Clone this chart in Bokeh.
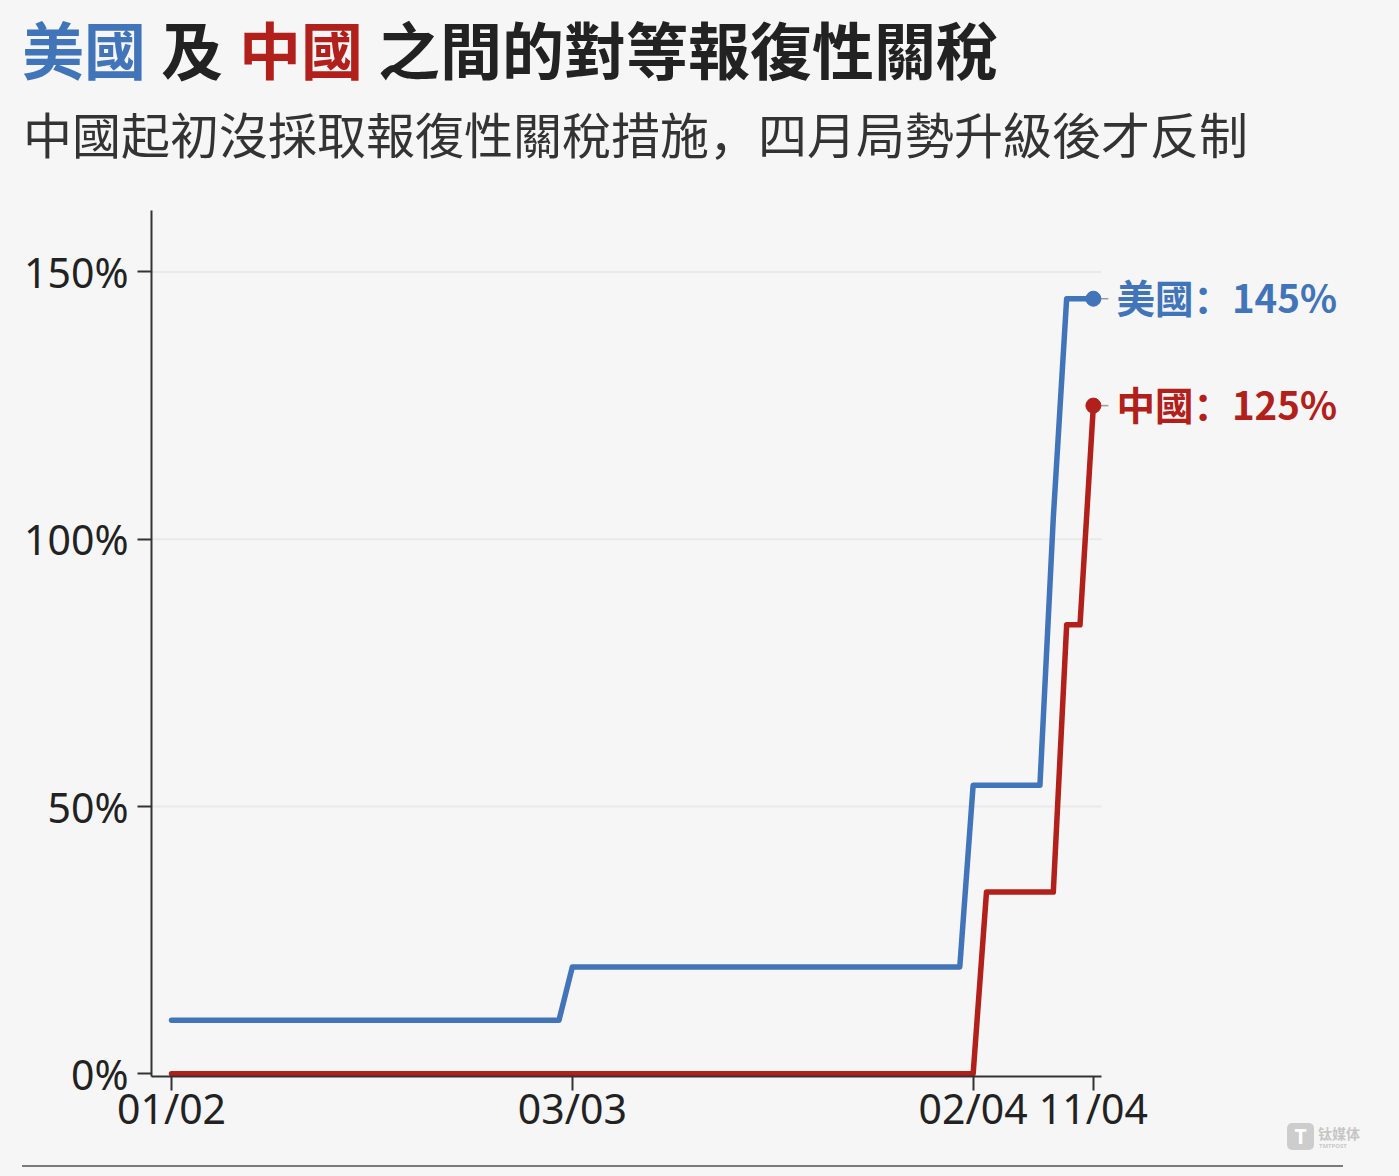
import pandas as pd
from bokeh.plotting import figure
from bokeh.layouts import column
from bokeh.models import Range1d, FixedTicker, Div
from bokeh.core.properties import value
from bokeh.embed import file_html
from bokeh.resources import INLINE

# ---- data ----
us_name = "美國"
cn_name = "中國"
us_dates = ["2025-02-01", "2025-03-02", "2025-03-03", "2025-04-01", "2025-04-02",
            "2025-04-07", "2025-04-08", "2025-04-09", "2025-04-11"]
us_rate = [10, 10, 20, 20, 54, 54, 104, 145, 145]
cn_dates = ["2025-02-01", "2025-04-02", "2025-04-03", "2025-04-08", "2025-04-09",
            "2025-04-10", "2025-04-11"]
cn_rate = [0, 0, 34, 34, 84, 84, 125]
tick_dates = ["2025-02-01", "2025-03-03", "2025-04-02", "2025-04-11"]
tick_labels = ["01/02", "03/03", "02/04", "11/04"]
y_ticks = [0, 50, 100, 150]
y_tick_labels = ["0%", "50%", "100%", "150%"]
title_parts = ["美國", "及", "中國", "之間的對等報復性關稅"]
subtitle = "中國起初沒採取報復性關稅措施，四月局勢升級後才反制"

BG = "#f6f6f6"
BLUE = "#4174b8"
RED = "#b1201b"
DARK = "#222222"
CJK = "Noto Sans CJK TC"
CJK_P = "Noto Sans CJK SC"
DAY = 86400000
W = 1399
PX_PER_DAY = 13.36
FRAME_W = 1228
HEAD_H = 190
FIG_H = 948
FOOT_H = 38


def ms(s):
    return int(pd.Timestamp(s).value // 10**6)


x_start = ms(tick_dates[0]) - 1.5 * DAY
x_end = x_start + FRAME_W / PX_PER_DAY * DAY
axis_end = ms(tick_dates[-1]) + 0.6 * DAY

p = figure(frame_width=FRAME_W, frame_height=866,
           min_border_left=151, min_border_right=W - 151 - FRAME_W,
           min_border_top=20, min_border_bottom=FIG_H - 20 - 866,
           x_axis_type="datetime", output_backend="svg", toolbar_location=None,
           background_fill_color=BG, border_fill_color=BG, outline_line_color=None)
p.x_range = Range1d(x_start, x_end)
p.y_range = Range1d(-0.5, 161.5)

for ax in (p.xaxis[0], p.yaxis[0]):
    ax.axis_line_color = "#333333"
    ax.axis_line_width = 2
    ax.major_tick_line_color = "#333333"
    ax.major_tick_line_width = 2
    ax.major_tick_out = 14
    ax.major_tick_in = 0
    ax.minor_tick_line_color = None
    ax.major_label_text_font = "Noto Sans"
    ax.major_label_text_font_size = "41px"
    ax.major_label_text_color = DARK

p.xaxis.ticker = FixedTicker(ticks=[ms(d) for d in tick_dates])
p.xaxis.major_label_overrides = {ms(d): l for d, l in zip(tick_dates, tick_labels)}
p.xaxis.major_label_standoff = -11
p.xaxis.bounds = (x_start, axis_end)
p.yaxis.ticker = FixedTicker(ticks=y_ticks)
p.yaxis.major_label_overrides = dict(zip(y_ticks, y_tick_labels))
p.yaxis.major_label_standoff = 9

p.xgrid.grid_line_color = None
p.ygrid.grid_line_color = None
gy = y_ticks[1:]
p.segment(x0=[x_start] * len(gy), x1=[axis_end] * len(gy), y0=gy, y1=gy,
          line_color="#e9e9e9", line_width=2)

us_x = pd.to_datetime(us_dates)
cn_x = pd.to_datetime(cn_dates)
p.line(us_x, us_rate, line_width=5.5, color=BLUE, line_join="round", line_cap="round")
p.line(cn_x, cn_rate, line_width=5.5, color=RED, line_join="round", line_cap="round")

for name, xs, rates, col in ((us_name, us_x, us_rate, BLUE), (cn_name, cn_x, cn_rate, RED)):
    p.ray(x=[xs[-1]], y=[rates[-1]], length=15, length_units="screen", angle=0,
          line_color="#9a9a9a", line_width=1.5)
    p.scatter([xs[-1]], [rates[-1]], size=15, color=col)
    p.text(x=[xs[-1]], y=[rates[-1]], text=[f"{name}：{rates[-1]}%"], x_offset=23,
           y_offset=-3, text_baseline="middle", text_color=col, text_font=value(CJK_P),
           text_font_style="bold", text_font_size="38.5px")

# ---- title block ----
title_left = [24, 163, 241, 380]
title_col = [BLUE, DARK, RED, DARK]
spans = "".join(
    f'<span style="position:absolute;left:{x - 2}px;top:17px;color:{c};">{t}</span>'
    for t, x, c in zip(title_parts, title_left, title_col))
head_html = (
    f'<div style="position:relative;width:{W}px;height:{HEAD_H}px;background:{BG};'
    f'font-family:\'{CJK}\';white-space:nowrap;line-height:1;">'
    f'<div style="font-size:62px;font-weight:bold;">{spans}</div>'
    f'<div style="position:absolute;left:23px;top:108px;font-size:49px;color:#333;'
    f'font-family:\'{CJK_P}\';">{subtitle}</div>'
    '</div>')
head = Div(text=head_html, width=W, height=HEAD_H, margin=0,
           styles={"background-color": BG})

# footer: top of footer is at page y = HEAD_H + FIG_H (1138)
foot_html = (
    f'<div style="position:relative;width:{W}px;height:{FOOT_H}px;background:{BG};line-height:1;">'
    '<div style="position:absolute;left:1287px;top:-15px;width:27px;height:27px;border-radius:5px;'
    'background:#cdcdcd;color:#fff;font:bold 21px \'Noto Sans\';text-align:center;line-height:27px;">T</div>'
    '<div style="position:absolute;left:1318px;top:-12px;font:bold 14px \'Noto Sans CJK SC\';'
    'line-height:14px;color:#c6c6c6;">钛媒体</div>'
    '<div style="position:absolute;left:1319px;top:5px;font:bold 6px \'Noto Sans\';'
    'line-height:6px;color:#cacaca;">TMTPOST</div>'
    '<div style="position:absolute;left:22px;top:27px;width:1321px;height:2px;background:#7a7a7a;"></div>'
    '</div>')
foot = Div(text=foot_html, width=W, height=FOOT_H, margin=0,
           styles={"background-color": BG, "overflow": "visible"})

layout = column(head, p, foot, spacing=0, styles={"background-color": BG})
open("out.html", "w").write(file_html(layout, INLINE))
